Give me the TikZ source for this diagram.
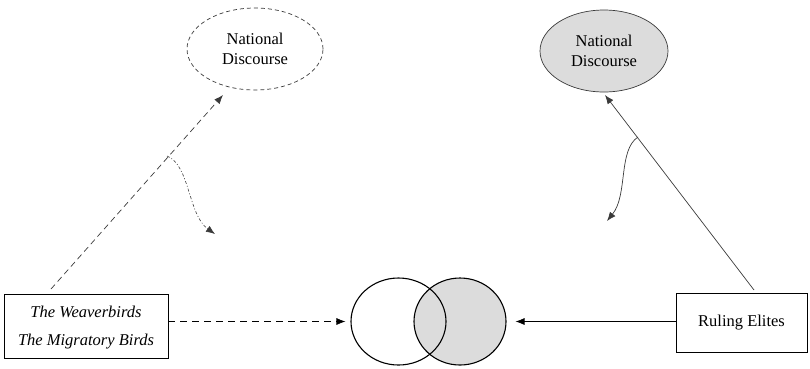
\documentclass[tikz,border=0pt]{standalone}
\usepackage{fontspec}
\setmainfont{Liberation Serif}
\usetikzlibrary{shapes.geometric,arrows.meta}
\definecolor{lgray}{HTML}{DCDCDC}
\definecolor{lnc}{HTML}{3A3A3A}
\begin{document}
\begin{tikzpicture}[x=1pt,y=-1pt,
  lbl/.style={font=\fontsize{16.5}{19}\selectfont, align=center, inner sep=0pt},
  oval/.style={ellipse, draw=lnc, line width=0.7pt, inner sep=0pt},
  boxn/.style={draw=black, line width=0.8pt, rectangle, inner sep=0pt},
  tip/.style={-{Latex[length=9pt,width=7pt]}},
  conn/.style={draw=lnc, line width=0.7pt},
  dsh/.style={dash pattern=on 6pt off 4pt}
]
\useasboundingbox (0,0) rectangle (810,368);
% top ellipses
\node[oval, dash pattern=on 4pt off 3pt, minimum width=136pt, minimum height=82pt, lbl] (ndL) at (255,49) {National\\[1pt]Discourse};
\node[oval, fill=lgray, minimum width=128pt, minimum height=82pt, lbl] (ndR) at (604,51) {National\\[1pt]Discourse};
% boxes
\node[boxn, minimum width=164pt, minimum height=64pt] (boxL) at (86,326) {};
\node[lbl, font=\fontsize{16.5}{19}\selectfont\itshape] (tw) at (86,312) {The Weaverbirds};
\node[lbl, font=\fontsize{16.5}{19}\selectfont\itshape] (tm) at (86,342) {The Migratory Birds};
\node[boxn, minimum width=131pt, minimum height=59pt, lbl] (boxR) at (741.5,322.5) {Ruling Elites};
% venn
\node[ellipse, draw=black, line width=1.1pt, fill=lgray, minimum width=92pt, minimum height=87pt, inner sep=0pt] (circR) at (460,321.5) {};
\node[ellipse, draw=black, line width=1.1pt, minimum width=95pt, minimum height=87pt, inner sep=0pt] (circL) at (398.5,321.5) {};
% horizontal arrows
\draw[conn, draw=black, dash pattern=on 7pt off 5pt, tip, shorten >=5pt] (boxL.east |- circL.west) -- (circL.west);
\draw[conn, draw=black, tip, shorten >=9pt] (boxR.west |- circR.east) -- (circR.east);
% diagonal lines
\coordinate (sL) at (51,289);
\coordinate (eL) at (223,95);
\coordinate (sR) at (754,290);
\coordinate (eR) at (605,95);
\draw[conn, dsh, tip] (sL) -- (eL);
\draw[conn, tip] (sR) -- (eR);
% curved arrows
\coordinate (cL0) at (167,156);
\coordinate (cL1) at (215,234);
\coordinate (cR0) at (638,137);
\coordinate (cR1) at (607,221);
\draw[conn, dash pattern=on 3pt off 2pt on 1pt off 2pt, line width=0.6pt, tip] (cL0) .. controls (190,165) and (188,215) .. (cL1);
\draw[conn, tip] (cR0) .. controls (618,150) and (628,195) .. (cR1);
\end{tikzpicture}
\end{document}
